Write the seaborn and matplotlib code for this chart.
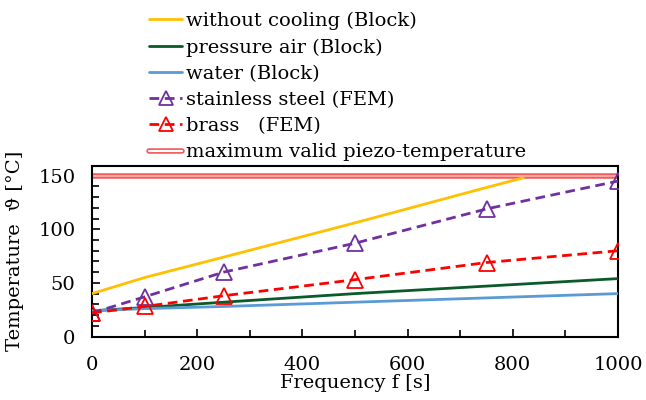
import matplotlib
matplotlib.use("Agg")
import matplotlib.pyplot as plt
from matplotlib.ticker import MultipleLocator
from matplotlib.lines import Line2D
import seaborn as sns

# Block model results (frequency in s, temperature in °C)
freq_nocool = [0, 100, 250, 500, 750, 820]
temp_nocool = [40, 55, 74, 106, 139, 148]

freq_block = [0, 100, 250, 500, 750, 1000]
temp_air = [24, 27, 32, 40, 47, 54]
temp_water = [24, 26, 28, 32, 36, 40]

# FEM results
freq_fem = [0, 100, 250, 500, 750, 1000]
temp_steel = [22, 37, 60, 87, 119, 145]
temp_brass = [22, 28, 38, 53, 69, 80]

# piezo limit
max_temp = 150
limit_x = [0, 1000]

labels = [
    "without cooling (Block)",
    "pressure air (Block)",
    "water (Block)",
    "stainless steel (FEM)",
    "brass   (FEM)",
    "maximum valid piezo-temperature",
]

sns.set_theme(style="ticks")
plt.rcParams["font.family"] = ["DejaVu Serif"]
plt.rcParams["mathtext.fontset"] = "dejavuserif"
plt.rcParams["text.color"] = "black"
plt.rcParams["axes.labelcolor"] = "black"
plt.rcParams["xtick.color"] = "black"
plt.rcParams["ytick.color"] = "black"

fig = plt.figure(figsize=(6.46, 4.0), dpi=100)
ax = fig.add_axes([92 / 646, 1 - 336.5 / 400, (618 - 92) / 646, (336.5 - 165.5) / 400])

YELLOW = "#ffc000"
GREEN = "#0b5a2a"
BLUE = "#5b9bd5"
PURPLE = "#7030a0"
RED = "#ff0000"
LIMIT = "#f25c5c"
DASH = (0, (3.5, 2))

# limit line: red outline with a light core
sns.lineplot(x=limit_x, y=[max_temp, max_temp], ax=ax, color=LIMIT, lw=4.0, zorder=2)
ax.plot(limit_x, [max_temp, max_temp], color="#ffb0b0", lw=1.3, zorder=2.1)

sns.lineplot(x=freq_nocool, y=temp_nocool, ax=ax, color=YELLOW, lw=2, zorder=3)
sns.lineplot(x=freq_block, y=temp_air, ax=ax, color=GREEN, lw=2, zorder=3)
sns.lineplot(x=freq_block, y=temp_water, ax=ax, color=BLUE, lw=2, zorder=3)
sns.lineplot(x=freq_fem, y=temp_steel, ax=ax, color=PURPLE, lw=2, ls=DASH,
             marker="^", markersize=11, markerfacecolor="none", markeredgecolor=PURPLE,
             markeredgewidth=1.3, zorder=4)
sns.lineplot(x=freq_fem, y=temp_brass, ax=ax, color=RED, lw=2, ls=DASH,
             marker="^", markersize=11, markerfacecolor="none", markeredgecolor=RED,
             markeredgewidth=1.3, zorder=4)

ax.set_xlim(0, 1000)
ax.set_ylim(0, 159.5)
ax.xaxis.set_major_locator(MultipleLocator(200))
ax.xaxis.set_minor_locator(MultipleLocator(100))
ax.yaxis.set_major_locator(MultipleLocator(50))
ax.yaxis.set_minor_locator(MultipleLocator(10))
ax.tick_params(axis="both", which="both", direction="in", color="black", width=1.2,
               labelsize=14, top=False, right=False)
ax.tick_params(axis="both", which="major", length=6)
ax.tick_params(axis="both", which="minor", length=5)
ax.tick_params(axis="x", which="major", pad=14)
ax.tick_params(axis="y", which="major", pad=12)
for s in ax.spines.values():
    s.set_color("black")
    s.set_linewidth(1.5)
ax.grid(False)

ax.set_xlabel("Frequency f [s]", fontsize=14, labelpad=0)
ax.set_ylabel("Temperature  ϑ [°C]", fontsize=14, labelpad=10)

# legend above the axes
handles = [
    Line2D([], [], color=YELLOW, lw=2),
    Line2D([], [], color=GREEN, lw=2),
    Line2D([], [], color=BLUE, lw=2),
    Line2D([], [], color=PURPLE, lw=2, ls=DASH, marker="^", markersize=10,
           markerfacecolor="none", markeredgewidth=1.3),
    Line2D([], [], color=RED, lw=2, ls=DASH, marker="^", markersize=10,
           markerfacecolor="none", markeredgewidth=1.3),
    (Line2D([], [], color=LIMIT, lw=4.0), Line2D([], [], color="white", lw=1.5)),
]
fig.legend(handles, labels, loc="upper left", bbox_to_anchor=(149 / 646, 1 - 12 / 400),
           frameon=False, fontsize=14, handlelength=1.7, handletextpad=0.22,
           labelspacing=0.42, borderpad=0, borderaxespad=0)

fig.savefig("out.png", dpi=100)
